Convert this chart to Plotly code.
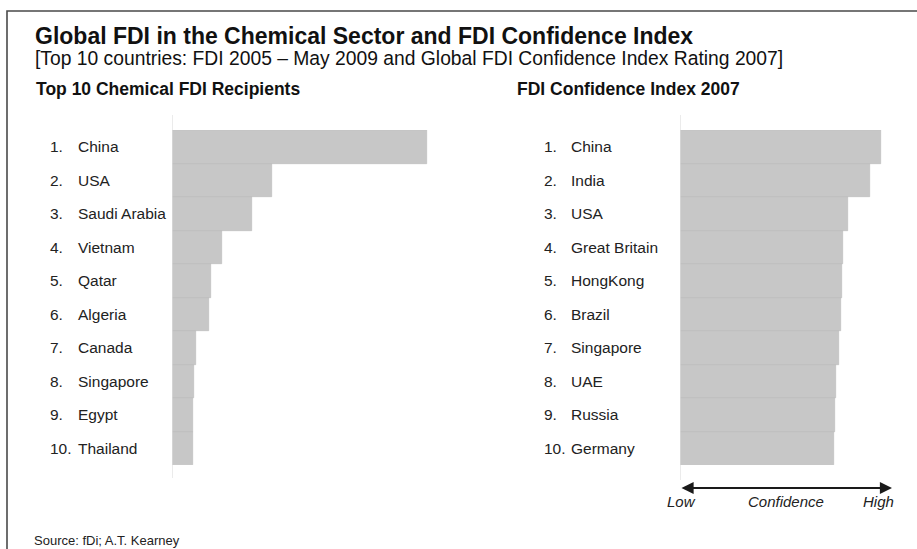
import plotly.graph_objects as go

W, H = 917, 549

# ---- data (relative bar lengths) ----
ranks = ["1.", "2.", "3.", "4.", "5.", "6.", "7.", "8.", "9.", "10."]
fdi_countries = ["China", "USA", "Saudi Arabia", "Vietnam", "Qatar",
                 "Algeria", "Canada", "Singapore", "Egypt", "Thailand"]
fdi_values = [100, 39.2, 31.4, 19.6, 15.3, 14.5, 9.4, 8.6, 8.2, 8.2]

conf_countries = ["China", "India", "USA", "Great Britain", "HongKong",
                  "Brazil", "Singapore", "UAE", "Russia", "Germany"]
conf_values = [2.01, 1.90, 1.68, 1.63, 1.62, 1.61, 1.59, 1.56, 1.55, 1.54]

title = "Global FDI in the Chemical Sector and FDI Confidence Index"
subtitle = "[Top 10 countries: FDI 2005 \u2013 May 2009 and Global FDI Confidence Index Rating 2007]"
left_title = "Top 10 Chemical FDI Recipients"
right_title = "FDI Confidence Index 2007"
source = "Source: fDi; A.T. Kearney"

FONT = "Liberation Sans, Arial, Helvetica, sans-serif"
BAR = "#c7c7c7"


def px(x):
    return x / W


def py(y):
    return 1 - y / H


fig = go.Figure()
fig.add_trace(go.Bar(x=fdi_values, y=fdi_countries, orientation="h",
                     marker=dict(color=BAR, line=dict(color="#b9b9b9", width=0.6)),
                     xaxis="x", yaxis="y", showlegend=False, hoverinfo="x+y"))
fig.add_trace(go.Bar(x=conf_values, y=conf_countries, orientation="h",
                     marker=dict(color=BAR, line=dict(color="#b9b9b9", width=0.6)),
                     xaxis="x2", yaxis="y2", showlegend=False, hoverinfo="x+y"))

ydom = [py(465), py(130)]
fig.update_layout(
    width=W, height=H,
    margin=dict(l=0, r=0, t=0, b=0),
    paper_bgcolor="white", plot_bgcolor="white",
    bargap=0,
    font=dict(family=FONT, color="#222"),
    xaxis=dict(domain=[px(172), px(432)], range=[0, 102], visible=False, fixedrange=True),
    yaxis=dict(domain=ydom, categoryorder="array", categoryarray=fdi_countries,
               autorange="reversed", visible=False, anchor="x"),
    xaxis2=dict(domain=[px(680), px(892)], range=[0, 2.12], visible=False, anchor="y2"),
    yaxis2=dict(domain=ydom, categoryorder="array", categoryarray=conf_countries,
                autorange="reversed", visible=False, anchor="x2"),
)

shapes = [
    # frame (continues beyond right/bottom edges)
    dict(type="rect", xref="paper", yref="paper", x0=px(7), x1=px(940), y0=py(575), y1=py(11),
         line=dict(color="#4a4a4a", width=1.6), fillcolor="rgba(0,0,0,0)", layer="below"),
    # baseline lines
    dict(type="line", xref="x", yref="paper", x0=0, x1=0, y0=py(478), y1=py(115),
         line=dict(color="#dedede", width=1.2)),
    dict(type="line", xref="x2", yref="paper", x0=0, x1=0, y0=py(480), y1=py(115),
         line=dict(color="#dedede", width=1.2)),
]
fig.update_layout(shapes=shapes)

ann = []
ann.append(dict(text="<b>" + title + "</b>", x=px(33), y=py(36), xref="paper", yref="paper",
                xanchor="left", yanchor="middle", showarrow=False,
                font=dict(size=23, color="#111", family=FONT)))
ann.append(dict(text=subtitle, x=px(33), y=py(58), xref="paper", yref="paper",
                xanchor="left", yanchor="middle", showarrow=False,
                font=dict(size=19.3, color="#111", family=FONT)))
ann.append(dict(text="<b>" + left_title + "</b>", x=px(34), y=py(89), xref="paper", yref="paper",
                xanchor="left", yanchor="middle", showarrow=False,
                font=dict(size=17.5, color="#111", family=FONT)))
ann.append(dict(text="<b>" + right_title + "</b>", x=px(515), y=py(89), xref="paper", yref="paper",
                xanchor="left", yanchor="middle", showarrow=False,
                font=dict(size=17.5, color="#111", family=FONT)))

for r, c in zip(ranks, fdi_countries):
    ann.append(dict(text=r, x=px(48), y=c, xref="paper", yref="y", xanchor="left",
                    yanchor="middle", showarrow=False, font=dict(size=15.5, color="#222")))
    ann.append(dict(text=c, x=px(76), y=c, xref="paper", yref="y", xanchor="left",
                    yanchor="middle", showarrow=False, font=dict(size=15.5, color="#222")))
for r, c in zip(ranks, conf_countries):
    ann.append(dict(text=r, x=px(542), y=c, xref="paper", yref="y2", xanchor="left",
                    yanchor="middle", showarrow=False, font=dict(size=15.5, color="#222")))
    ann.append(dict(text=c, x=px(569), y=c, xref="paper", yref="y2", xanchor="left",
                    yanchor="middle", showarrow=False, font=dict(size=15.5, color="#222")))

# Low - Confidence - High double arrow
ann.append(dict(x=2.12, y=py(488), xref="x2", yref="paper", ax=0, ay=0,
                axref="x2", ayref="pixel", text="", showarrow=True,
                arrowhead=2, startarrowhead=2, arrowside="end+start",
                arrowsize=1.1, startarrowsize=1.1, arrowwidth=2.2, arrowcolor="#1a1a1a",
                standoff=0, startstandoff=0))
for t, xx in [("Low", 681), ("Confidence", 786), ("High", 878)]:
    ann.append(dict(text="<i>" + t + "</i>", x=px(xx), y=py(501), xref="paper", yref="paper",
                    xanchor="center", yanchor="middle", showarrow=False,
                    font=dict(size=15, color="#222")))

ann.append(dict(text=source, x=px(32), y=py(540), xref="paper", yref="paper",
                xanchor="left", yanchor="middle", showarrow=False,
                font=dict(size=13, color="#222")))

fig.update_layout(annotations=ann)
fig.write_html("out.html")
